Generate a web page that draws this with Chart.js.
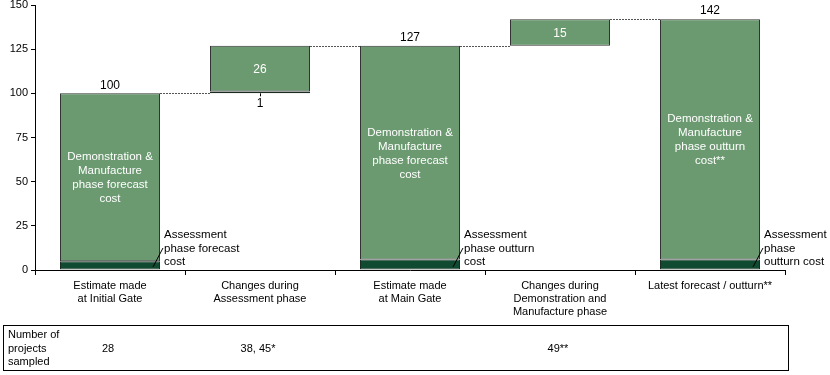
<!DOCTYPE html>
<html>
<head>
<meta charset="utf-8">
<script src="https://cdn.jsdelivr.net/npm/chart.js"></script>
<style>
  body { margin: 0; background: #fff; }
  canvas { display: block; }
</style>
</head>
<body>
<canvas id="costChart" width="830" height="375"></canvas>
<script>
// categories along the x axis
const categories = [
  ['Estimate made', 'at Initial Gate'],
  ['Changes during', 'Assessment phase'],
  ['Estimate made', 'at Main Gate'],
  ['Changes during', 'Demonstration and', 'Manufacture phase'],
  ['Latest forecast / outturn**']
];
// where each bar starts (waterfall base)
const barStart = [0, 100, 0, 127, 0];
// assessment phase part (dark) and D&M part (light)
const assessmentPart = [5, 1, 6, 0, 6];
const dmPart = [95, 26, 121, 15, 136];
const yTicks = [0, 25, 50, 75, 100, 125, 150];
// table row under the chart
const sampleCounts = ['28', '38, 45*', '', '49**', ''];

const totals = barStart.map((s, i) => s + assessmentPart[i] + dmPart[i]);

const LIGHT = '#6b9a70';
const DARK = '#0f4a31';
const FONT = '"Liberation Sans", Arial, sans-serif';

// text inside the big bars
const insideText = [
  ['Demonstration &', 'Manufacture', 'phase forecast', 'cost'],
  null,
  ['Demonstration &', 'Manufacture', 'phase forecast', 'cost'],
  null,
  ['Demonstration &', 'Manufacture', 'phase outturn', 'cost**']
];
// notes beside the dark bottom segments
const sideText = [
  ['Assessment', 'phase forecast', 'cost'],
  null,
  ['Assessment', 'phase outturn', 'cost'],
  null,
  ['Assessment', 'phase', 'outturn cost']
];

const overlay = {
  id: 'overlay',
  afterDraw(chart) {
    const ctx = chart.ctx;
    const x = chart.scales.x, y = chart.scales.y;
    const bars = chart.getDatasetMeta(1).data;
    ctx.save();

    // dotted connectors between bars
    ctx.strokeStyle = '#555';
    ctx.lineWidth = 1;
    ctx.setLineDash([2, 1]);
    for (let i = 0; i < totals.length - 1; i++) {
      const yy = Math.round(y.getPixelForValue(totals[i])) + 0.5;
      ctx.beginPath();
      ctx.moveTo(bars[i].x + bars[i].width / 2, yy);
      ctx.lineTo(bars[i + 1].x - bars[i + 1].width / 2, yy);
      ctx.stroke();
    }
    ctx.setLineDash([]);

    // value labels
    ctx.font = '12px ' + FONT;
    ctx.textAlign = 'center';
    ctx.textBaseline = 'middle';
    for (let i = 0; i < totals.length; i++) {
      const cx = x.getPixelForValue(i);
      if (barStart[i] === 0) {
        ctx.fillStyle = '#000';
        ctx.fillText(String(totals[i]), cx, y.getPixelForValue(totals[i]) - 8);
      } else {
        ctx.fillStyle = '#fff';
        const lo = barStart[i] + assessmentPart[i];
        ctx.fillText(String(dmPart[i]), cx, y.getPixelForValue(lo + dmPart[i] / 2) + 1);
        if (assessmentPart[i] > 0) {
          const by = y.getPixelForValue(barStart[i]);
          ctx.strokeStyle = '#000';
          ctx.beginPath();
          ctx.moveTo(cx + 0.5, by);
          ctx.lineTo(cx + 0.5, by + 3);
          ctx.stroke();
          ctx.fillStyle = '#000';
          ctx.fillText(String(assessmentPart[i]), cx, by + 10);
        }
      }
    }

    // text inside big bars
    ctx.font = '11.5px ' + FONT;
    for (let i = 0; i < insideText.length; i++) {
      if (!insideText[i]) continue;
      const cx = x.getPixelForValue(i);
      const lo = barStart[i] + assessmentPart[i];
      const mid = y.getPixelForValue(lo + dmPart[i] / 2) + 1;
      const lines = insideText[i];
      ctx.fillStyle = '#fff';
      lines.forEach((t, k) => {
        ctx.fillText(t, cx, mid + (k - (lines.length - 1) / 2) * 14);
      });
    }

    // side notes with leader line
    ctx.textAlign = 'left';
    for (let i = 0; i < sideText.length; i++) {
      if (!sideText[i]) continue;
      const right = bars[i].x + bars[i].width / 2;
      const base = y.getPixelForValue(0);
      ctx.strokeStyle = '#000';
      ctx.beginPath();
      ctx.moveTo(right - 7, base - 3);
      ctx.lineTo(right + 3, base - 22);
      ctx.stroke();
      ctx.fillStyle = '#000';
      sideText[i].forEach((t, k) => {
        ctx.fillText(t, right + 4, base - 35 + k * 13.5);
      });
    }

    // table box
    ctx.strokeStyle = '#000';
    ctx.strokeRect(3.5, 325.5, 785, 45);
    ctx.font = '11px ' + FONT;
    ctx.fillStyle = '#000';
    ['Number of', 'projects', 'sampled'].forEach((t, k) => {
      ctx.fillText(t, 8, 335 + k * 13.5);
    });
    ctx.textAlign = 'center';
    sampleCounts.forEach((t, i) => {
      if (t) ctx.fillText(t, x.getPixelForValue(i) - 2, 349);
    });
    ctx.restore();
  }
};

new Chart(document.getElementById('costChart'), {
  type: 'bar',
  data: {
    labels: categories,
    datasets: [
      {
        label: 'Assessment phase',
        data: barStart.map((s, i) => assessmentPart[i] ? [s, s + assessmentPart[i]] : null),
        backgroundColor: DARK,
        borderColor: '#1c2b22',
        borderWidth: 1,
        borderSkipped: false,
        barPercentage: 2 / 3,
        categoryPercentage: 1
      },
      {
        label: 'Demonstration & Manufacture phase',
        data: barStart.map((s, i) => [s + assessmentPart[i], s + assessmentPart[i] + dmPart[i]]),
        backgroundColor: LIGHT,
        borderColor: '#333',
        borderWidth: 1,
        borderSkipped: false,
        barPercentage: 2 / 3,
        categoryPercentage: 1
      }
    ]
  },
  options: {
    responsive: false,
    animation: false,
    layout: { padding: { top: 5, right: 45, left: 0, bottom: 0 } },
    plugins: { legend: { display: false }, tooltip: { enabled: false } },
    scales: {
      x: {
        stacked: true,
        afterFit(s) { s.height = 105; },
        border: { color: '#000', width: 1 },
        grid: { offset: true, drawOnChartArea: false, tickLength: 5, color: '#000' },
        ticks: { color: '#000', font: { size: 11, family: FONT }, padding: 4, maxRotation: 0, autoSkip: false }
      },
      y: {
        stacked: false,
        min: 0,
        max: 150,
        afterFit(s) { s.width = 35; s.paddingTop = 0; s.paddingBottom = 0; },
        afterBuildTicks(s) { s.ticks = yTicks.map(v => ({ value: v })); },
        border: { color: '#000', width: 1 },
        grid: { drawOnChartArea: false, tickLength: 4, color: '#000' },
        ticks: { color: '#000', font: { size: 11, family: FONT }, padding: 3 }
      }
    }
  },
  plugins: [overlay]
});
</script>
</body>
</html>
